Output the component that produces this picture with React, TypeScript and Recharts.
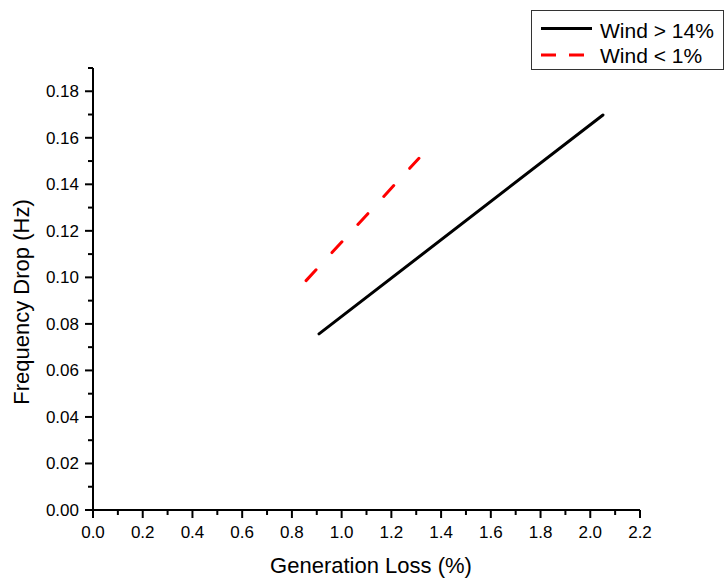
import React from 'react';
import { LineChart, Line, XAxis, YAxis, Legend, Label } from 'recharts';

const seriesNames = ['Wind > 14%', 'Wind < 1%'];
const windHighX = [0.909, 2.051];
const windHighY = [0.0757, 0.1698];
const windLowX = [0.857, 1.311];
const windLowY = [0.0986, 0.1512];

const xTicks = [0, 0.1, 0.2, 0.3, 0.4, 0.5, 0.6, 0.7, 0.8, 0.9, 1.0, 1.1, 1.2, 1.3, 1.4, 1.5, 1.6, 1.7, 1.8, 1.9, 2.0, 2.1, 2.2];
const yTicks = [0, 0.01, 0.02, 0.03, 0.04, 0.05, 0.06, 0.07, 0.08, 0.09, 0.1, 0.11, 0.12, 0.13, 0.14, 0.15, 0.16, 0.17, 0.18, 0.19];

const xTitle = 'Generation Loss (%)';
const yTitle = 'Frequency Drop (Hz)';

const highData = windHighX.map((x, i) => ({ x, y: windHighY[i] }));
const lowData = windLowX.map((x, i) => ({ x, y: windLowY[i] }));

const FONT = '"Liberation Sans", Arial, Helvetica, sans-serif';

const XTick = (props: any) => {
  const { x, y, payload } = props;
  const v = payload.value as number;
  const major = Math.round(v * 10) % 2 === 0;
  return (
    <g>
      <line x1={x} x2={x} y1={y} y2={y + (major ? 8 : 5)} stroke="#000" strokeWidth={2} />
      {major && (
        <text x={x} y={y + 28} textAnchor="middle" fontSize={17} fill="#000" fontFamily={FONT}>
          {v.toFixed(1)}
        </text>
      )}
    </g>
  );
};

const YTick = (props: any) => {
  const { x, y, payload } = props;
  const v = payload.value as number;
  const major = Math.round(v * 100) % 2 === 0;
  return (
    <g>
      <line x1={x} x2={x - (major ? 8 : 5)} y1={y} y2={y} stroke="#000" strokeWidth={2} />
      {major && (
        <text x={x - 14} y={y + 6} textAnchor="end" fontSize={17} fill="#000" fontFamily={FONT}>
          {v.toFixed(2)}
        </text>
      )}
    </g>
  );
};

const LegendBox = () => (
  <svg width={193} height={60} style={{ display: 'block' }}>
    <rect x={0.5} y={0.5} width={192} height={59} fill="#fff" stroke="#333" strokeWidth={1} />
    <line x1={10} x2={61} y1={18.5} y2={18.5} stroke="#000" strokeWidth={3} />
    <text x={69} y={28} fontSize={21} fill="#000" fontFamily={FONT}>{seriesNames[0]}</text>
    <line x1={10} x2={54} y1={45} y2={45} stroke="#ff0000" strokeWidth={3} strokeDasharray="15 13" />
    <text x={69} y={53} fontSize={21} fill="#000" fontFamily={FONT}>{seriesNames[1]}</text>
  </svg>
);

export default function App() {
  return (
    <div style={{ position: 'absolute', left: 0, top: 0, width: 724, height: 578, background: '#fff' }}>
      <LineChart width={724} height={578} margin={{ top: 68, right: 84, left: 0, bottom: 0 }}>
        <XAxis
          dataKey="x"
          type="number"
          domain={[0, 2.2]}
          ticks={xTicks}
          interval={0}
          allowDataOverflow
          height={68}
          tickSize={0}
          tickMargin={0}
          tickLine={false}
          axisLine={{ stroke: '#000', strokeWidth: 2 }}
          tick={<XTick />}
        >
          <Label
            content={() => (
              <text x={371} y={573} textAnchor="middle" fontSize={22} fill="#000" fontFamily={FONT}>
                {xTitle}
              </text>
            )}
          />
        </XAxis>
        <YAxis
          dataKey="y"
          type="number"
          domain={[0, 0.19]}
          ticks={yTicks}
          interval={0}
          allowDataOverflow
          width={93}
          tickSize={0}
          tickMargin={0}
          tickLine={false}
          axisLine={{ stroke: '#000', strokeWidth: 2 }}
          tick={<YTick />}
        >
          <Label
            content={() => (
              <text transform="translate(29,302) rotate(-90)" x={0} y={0} textAnchor="middle" fontSize={22} fill="#000" fontFamily={FONT}>
                {yTitle}
              </text>
            )}
          />
        </YAxis>
        <Legend
          layout="vertical"
          align="center"
          verticalAlign="middle"
          content={() => <LegendBox />}
          wrapperStyle={{ position: 'absolute', left: 531, top: 10, width: 193, height: 60 }}
        />
        <Line
          data={highData}
          dataKey="y"
          name={seriesNames[0]}
          type="linear"
          stroke="#000"
          strokeWidth={3}
          strokeLinecap="round"
          dot={false}
          activeDot={false}
          isAnimationActive={false}
        />
        <Line
          data={lowData}
          dataKey="y"
          name={seriesNames[1]}
          type="linear"
          stroke="#ff0000"
          strokeWidth={3}
          strokeLinecap="round"
          strokeDasharray="14.7 23.5"
          dot={false}
          activeDot={false}
          isAnimationActive={false}
        />
      </LineChart>
    </div>
  );
}
